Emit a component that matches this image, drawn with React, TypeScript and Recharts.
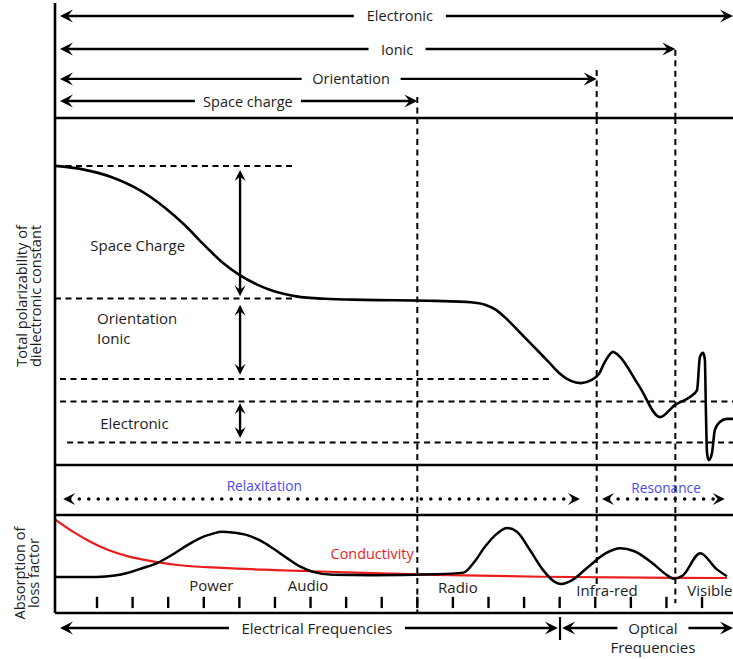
import type { ReactNode } from "react";
import { ComposedChart, Line, ReferenceDot, ReferenceLine, XAxis, YAxis } from "recharts";

const WIDTH = 733;
const AXIS_W = 55;
const INK = "#000";
const TEXT = "#1c1c1c";
const FONT = "'Open Sans', 'DejaVu Sans', sans-serif";
// x is a log-frequency index: tick marks sit on the whole numbers
const FREQ_DOMAIN: [number, number] = [-0.18, 18.87];
const DASH = "6 4.5";

// polarization mechanisms and the frequency index where each drops out
const mechanisms = ["Electronic", "Ionic", "Orientation", "Space charge"];
const mechanismCutoff = [18.87, 17.25, 15.04, 10];
const mechanismRow = [3.55, 2.4, 1.36, 0.59];
const mechanismLabelAt = [9.51, 9.43, 8.14, 5.24];
const cutoffs = [10, 15.04, 17.25];
const cutoffTop = [0.73, 1.67, 2.37];

// total polarizability vs frequency
const polarization: [number, number][] = [
  [-0.18, 8.62], [0.6, 8.52], [1.4, 8.3], [2.2, 7.92], [2.9, 7.42], [3.5, 6.88],
  [4.0, 6.35], [4.5, 5.86], [5.0, 5.48], [5.5, 5.2], [6.0, 5.0], [6.6, 4.86],
  [7.4, 4.79], [8.5, 4.76], [10.5, 4.73], [11.5, 4.69], [11.9, 4.62], [12.2, 4.48],
  [12.5, 4.22], [12.9, 3.8], [13.3, 3.38], [13.7, 2.96], [14.0, 2.64], [14.3, 2.43],
  [14.6, 2.36], [14.9, 2.45], [15.1, 2.62], [15.27, 2.97], [15.5, 3.26], [15.64, 3.17],
  [16.23, 2.28], [16.82, 1.38], [17.24, 1.73], [17.66, 1.96], [17.86, 2.16], [17.94, 3.11],
  [18.03, 3.23], [18.08, 3.03], [18.11, 1.5], [18.14, 0.35], [18.19, 0.14], [18.28, 0.35],
  [18.36, 1.01], [18.5, 1.24], [18.7, 1.33], [18.87, 1.33],
];
const levels = [8.62, 4.8, 2.48, 1.83, 0.65];
const levelSpan: [number, number][] = [[-0.18, 6.5], [-0.18, 6.5], [-0.04, 13.8], [-0.04, 18.87], [0.16, 18.87]];
const contributionAt = 5.02;
const contributions: [number, number][] = [[8.5, 4.86], [4.62, 2.6], [1.78, 0.78]];
const contributionNames = ["Space Charge", "Orientation", "Ionic", "Electronic"];
const contributionLabel: [number, number][] = [[0.81, 6.34], [1.0, 4.24], [1.0, 3.66], [1.09, 1.21]];

// relaxation / resonance regimes
const regimes = ["Relaxitation", "Resonance"];
const regimeSpan: [number, number][] = [[0.05, 14.57], [15.19, 18.64]];
const regimeLabel: [number, number][] = [[5.7, 3.0], [16.99, 2.8]];

// absorption (loss factor) and conductivity
const lossFactor: [number, number][] = [
  [-0.18, 3.67], [1.0, 3.67], [1.5, 3.82], [1.85, 4.08], [2.29, 4.59], [2.69, 5.1],
  [3.14, 6.0], [3.53, 6.9], [3.9, 7.65], [4.26, 8.1], [4.5, 8.28], [4.8, 8.22],
  [5.22, 7.95], [5.58, 7.4], [5.94, 6.6], [6.34, 5.6], [6.7, 4.75], [7.07, 4.2],
  [7.63, 3.9], [8.7, 3.85], [10.5, 3.95], [11.3, 4.12], [11.6, 5.2], [11.9, 6.75],
  [12.24, 8.1], [12.52, 8.67], [12.8, 8.3], [13.16, 6.45], [13.53, 4.4], [13.85, 3.2],
  [14.05, 2.95], [14.35, 3.35], [14.8, 4.7], [15.3, 6.1], [15.7, 6.6], [16.1, 6.3],
  [16.6, 5.1], [17.0, 3.9], [17.2, 3.5], [17.45, 3.8], [17.95, 6.1], [18.4, 4.5],
  [18.7, 3.75],
];
const conductivity: [number, number][] = [
  [-0.18, 9.55], [0.3, 8.35], [0.8, 7.3], [1.3, 6.45], [1.9, 5.75], [2.6, 5.25],
  [3.4, 4.85], [4.5, 4.6], [6.0, 4.38], [8.0, 4.15], [10.5, 3.9], [13.5, 3.7], [18.7, 3.57],
];
const bands = ["Power", "Audio", "Radio", "Infra-red", "Visible"];
const bandLabel: [number, number][] = [[4.21, 2.86], [6.93, 2.86], [11.14, 2.65], [15.33, 2.35], [18.22, 2.35]];
const freqTicks = [1, 2, 3, 4, 5, 6, 7, 8, 9, 10, 11, 12, 13, 14, 15, 16, 17, 18];

// frequency ranges along the bottom
const ranges = ["Electrical Frequencies", "Optical"];
const rangeSpan: [number, number][] = [[-0.04, 13.95], [14.07, 18.87]];
const rangeLabelAt = [7.18, 16.62];
const rangeDivider = 14.01;

const toPoints = (pts: [number, number][]) => pts.map(([k, v]) => ({ k, v }));

function headPath(x: number, y: number, ux: number, uy: number, len: number, half: number) {
  const bx = x - ux * len;
  const by = y - uy * len;
  const nx = x - ux * len * 0.6;
  const ny = y - uy * len * 0.6;
  return `M${x},${y}L${bx - uy * half},${by + ux * half}L${nx},${ny}L${bx + uy * half},${by - ux * half}Z`;
}

type ArrowOpts = { dotted?: boolean; head?: number; label?: string; at?: number; from?: number; to?: number; size?: number };

// double-headed arrow, optionally broken around a centred label
function arrowShape(o: ArrowOpts = {}) {
  return (p: any) => {
    const x1 = Number(p.x1), y1 = Number(p.y1), x2 = Number(p.x2), y2 = Number(p.y2);
    const d = Math.hypot(x2 - x1, y2 - y1) || 1;
    const ux = (x2 - x1) / d;
    const uy = (y2 - y1) / d;
    const head = o.head ?? 12;
    const inset = head * 0.55;
    const sx = x1 + ux * inset, sy = y1 + uy * inset;
    const ex = x2 - ux * inset, ey = y2 - uy * inset;
    const stroke = {
      stroke: INK,
      strokeWidth: o.dotted ? 3.6 : 2.4,
      strokeDasharray: o.dotted ? "0 9.5" : undefined,
      strokeLinecap: (o.dotted ? "round" : "butt") as "round" | "butt",
      fill: "none",
    };
    const parts: ReactNode[] = [];
    if (o.label && o.at != null && o.from != null && o.to != null) {
      const t = (o.at - o.from) / (o.to - o.from);
      const cx = x1 + (x2 - x1) * t;
      const cy = y1 + (y2 - y1) * t;
      const half = (o.label.length * 7 + 22) / 2;
      parts.push(<line key="a" x1={sx} y1={sy} x2={cx - half} y2={cy} {...stroke} />);
      parts.push(<line key="b" x1={cx + half} y1={cy} x2={ex} y2={ey} {...stroke} />);
      parts.push(
        <text key="t" x={cx} y={cy} textAnchor="middle" dominantBaseline="central" fontFamily={FONT} fontSize={o.size ?? 14.5} fill={TEXT}>
          {o.label}
        </text>,
      );
    } else {
      parts.push(<line key="a" x1={sx} y1={sy} x2={ex} y2={ey} {...stroke} />);
    }
    return (
      <g>
        {parts}
        <path d={headPath(x1, y1, -ux, -uy, head, head * 0.5)} fill={INK} />
        <path d={headPath(x2, y2, ux, uy, head, head * 0.5)} fill={INK} />
      </g>
    );
  };
}

function textShape(label: string, opts: { anchor?: "start" | "middle"; size?: number; color?: string } = {}) {
  return (p: any) => (
    <text x={p.cx} y={p.cy} textAnchor={opts.anchor ?? "middle"} dominantBaseline="central" fontFamily={FONT} fontSize={opts.size ?? 15} fill={opts.color ?? TEXT}>
      {label}
    </text>
  );
}

function sideTitle(lines: string[], xs: number[], cy: number) {
  return {
    content: () => (
      <g>
        {lines.map((s, i) => (
          <text key={s} x={xs[i]} y={cy} transform={`rotate(-90 ${xs[i]} ${cy})`} textAnchor="middle" dominantBaseline="central" fontFamily={FONT} fontSize={14.6} fill={TEXT}>
            {s}
          </text>
        ))}
      </g>
    ),
  };
}

function Panel({ top, height, domain, marginTop = 0, axis = true, title, children }: {
  top: number; height: number; domain: [number, number]; marginTop?: number; axis?: boolean; title?: any; children: ReactNode;
}) {
  return (
    <div style={{ position: "absolute", left: 0, top }}>
      <ComposedChart width={WIDTH} height={height} margin={{ top: marginTop, right: 0, bottom: 0, left: axis ? 0 : AXIS_W }}>
        <XAxis type="number" dataKey="k" domain={FREQ_DOMAIN} allowDataOverflow hide />
        <YAxis
          type="number"
          domain={domain}
          allowDataOverflow
          hide={!axis}
          width={AXIS_W}
          tick={false}
          tickLine={false}
          axisLine={{ stroke: INK, strokeWidth: 2.6 }}
          label={title}
        />
        {children}
      </ComposedChart>
    </div>
  );
}

const seg = (x1: number, y1: number, x2: number, y2: number) => [{ x: x1, y: y1 }, { x: x2, y: y2 }];

const guides = (tops: number[], bottoms: number[]) =>
  cutoffs.map((k, i) => (
    <ReferenceLine key={`g${i}`} segment={seg(k, tops[i], k, bottoms[i])} stroke={INK} strokeWidth={2} strokeDasharray={DASH} ifOverflow="visible" />
  ));

const rule = (key: string) => <ReferenceLine key={key} y={0} stroke={INK} strokeWidth={2.6} ifOverflow="visible" />;

export default function App() {
  return (
    <div style={{ position: "relative", width: WIDTH, height: 659, background: "#fff" }}>
      <style>{"body{margin:0}.recharts-surface{overflow:visible}"}</style>

      {/* mechanism ranges */}
      <Panel top={0} height={118} marginTop={3} domain={[0, 4]}>
        {guides(cutoffTop, [0, 0, 0])}
        {mechanisms.map((m, i) => (
          <ReferenceLine
            key={m}
            segment={seg(-0.04, mechanismRow[i], mechanismCutoff[i], mechanismRow[i])}
            ifOverflow="visible"
            shape={arrowShape({ label: m, at: mechanismLabelAt[i], from: -0.04, to: mechanismCutoff[i], head: 13 })}
          />
        ))}
        {rule("base")}
      </Panel>

      {/* total polarizability */}
      <Panel top={118} height={347} domain={[0, 10]} title={sideTitle(["Total polarizability of", "dielectronic constant"], [21, 35], 178)}>
        {guides([10, 10, 10], [0, 0, 0])}
        {levels.map((v, i) => (
          <ReferenceLine key={`l${i}`} segment={seg(levelSpan[i][0], v, levelSpan[i][1], v)} stroke={INK} strokeWidth={2} strokeDasharray={DASH} ifOverflow="visible" />
        ))}
        {contributions.map(([a, b], i) => (
          <ReferenceLine key={`c${i}`} segment={seg(contributionAt, a, contributionAt, b)} ifOverflow="visible" shape={arrowShape({ head: 11 })} />
        ))}
        {contributionNames.map((name, i) => (
          <ReferenceDot key={name} x={contributionLabel[i][0]} y={contributionLabel[i][1]} r={0} ifOverflow="visible" shape={textShape(name, { anchor: "start" })} />
        ))}
        <Line data={toPoints(polarization)} dataKey="v" type="monotone" stroke={INK} strokeWidth={2.6} dot={false} activeDot={false} isAnimationActive={false} />
        {rule("base")}
      </Panel>

      {/* relaxation / resonance */}
      <Panel top={465} height={50} domain={[0, 5]}>
        {guides([5, 5, 5], [0, 0, 0])}
        {regimes.map((r, i) => (
          <ReferenceLine key={r} segment={seg(regimeSpan[i][0], 1.6, regimeSpan[i][1], 1.6)} ifOverflow="visible" shape={arrowShape({ dotted: true, head: 12 })} />
        ))}
        {regimes.map((r, i) => (
          <ReferenceDot key={`t${r}`} x={regimeLabel[i][0]} y={regimeLabel[i][1]} r={0} ifOverflow="visible" shape={textShape(r, { size: 13.7, color: "#4a4af2" })} />
        ))}
        {rule("base")}
      </Panel>

      {/* absorption */}
      <Panel top={515} height={98} domain={[0, 10]} title={sideTitle(["Absorption of", "loss factor"], [19, 33], 58)}>
        {guides([10, 10, 10], [0, 2.6, 1.0])}
        {freqTicks.map((k) => (
          <ReferenceLine key={`t${k}`} segment={seg(k, 0.5, k, 1.65)} stroke={INK} strokeWidth={2.4} ifOverflow="visible" />
        ))}
        {bands.map((b, i) => (
          <ReferenceDot key={b} x={bandLabel[i][0]} y={bandLabel[i][1]} r={0} ifOverflow="visible" shape={textShape(b)} />
        ))}
        <Line data={toPoints(conductivity)} dataKey="v" type="monotone" stroke="#ea1c1c" strokeWidth={2.2} dot={false} activeDot={false} isAnimationActive={false} />
        <Line data={toPoints(lossFactor)} dataKey="v" type="monotone" stroke={INK} strokeWidth={2.5} dot={false} activeDot={false} isAnimationActive={false} />
        <ReferenceDot x={8.73} y={6.12} r={0} ifOverflow="visible" shape={textShape("Conductivity", { size: 14.4, color: "#ea1c1c" })} />
        {rule("base")}
      </Panel>

      {/* electrical / optical ranges */}
      <Panel top={613} height={46} domain={[0, 4.6]} axis={false}>
        {ranges.map((r, i) => (
          <ReferenceLine
            key={r}
            segment={seg(rangeSpan[i][0], 3.1, rangeSpan[i][1], 3.1)}
            ifOverflow="visible"
            shape={arrowShape({ label: r, at: rangeLabelAt[i], from: rangeSpan[i][0], to: rangeSpan[i][1], head: 13, size: 15 })}
          />
        ))}
        <ReferenceDot x={rangeLabelAt[1]} y={1.2} r={0} ifOverflow="visible" shape={textShape("Frequencies")} />
        <ReferenceLine segment={seg(rangeDivider, 4.2, rangeDivider, 1.9)} stroke={INK} strokeWidth={2.2} ifOverflow="visible" />
      </Panel>
    </div>
  );
}
